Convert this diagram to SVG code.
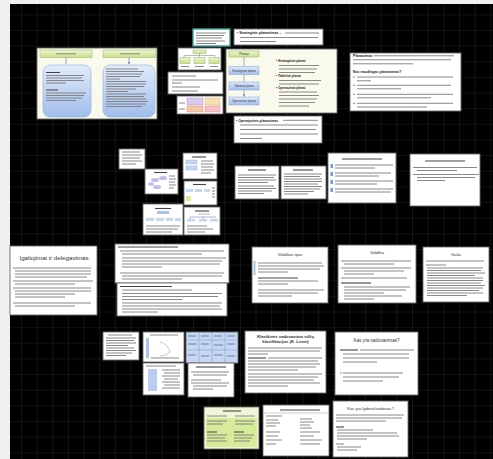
<svg xmlns="http://www.w3.org/2000/svg" width="493" height="459" viewBox="0 0 493 459">
<style>
.s{fill:#fff;stroke:#6a6a6a;stroke-width:.9}
.c{fill:#fafaec;stroke:#6a6a6a;stroke-width:.9}
.t{fill:none;stroke:#7c7c7c;stroke-width:.9}
.tb{fill:none;stroke:#444;stroke-width:1.1}
.h{font-family:"Liberation Sans",Arial,sans-serif;fill:#333;text-anchor:middle}
.hb{font-family:"Liberation Sans",Arial,sans-serif;fill:#222;font-weight:bold}
.gb{fill:url(#gGreen);stroke:#a4bf72;stroke-width:.6}
.bb{fill:url(#gBlue);stroke:#8fabdc;stroke-width:.6}
.ar{stroke:#6f88b8;stroke-width:.7;fill:none;marker-end:url(#ah)}
</style>
<defs>
<pattern id="grid" x="5.36" y="14.36" width="15.64" height="15.64" patternUnits="userSpaceOnUse">
<path d="M0 0H15.64M0 0V15.64" stroke="#222" stroke-width="1.2" fill="none"/>
</pattern>
<linearGradient id="gGreen" x1="0" y1="0" x2="0" y2="1"><stop offset="0" stop-color="#eef6d4"/><stop offset="1" stop-color="#c6df88"/></linearGradient>
<linearGradient id="gBlue" x1="0" y1="0" x2="0" y2="1"><stop offset="0" stop-color="#e2ebfa"/><stop offset="1" stop-color="#a0bdec"/></linearGradient>
<marker id="ah" viewBox="0 0 6 6" refX="5" refY="3" markerWidth="4" markerHeight="4" orient="auto"><path d="M0 0L6 3L0 6z" fill="#6f88b8"/></marker>
</defs>
<rect x="0" y="0" width="493" height="459" fill="#f0f0f0"/>
<rect x="10" y="4" width="483" height="455" fill="#000"/>
<rect x="10" y="4" width="483" height="455" fill="url(#grid)"/>

<g id="slide-planai-schema">
<rect class="c" x="37" y="48" width="120" height="71"/>
<rect class="gb" x="40" y="50" width="52" height="7.5"/>
<rect class="gb" x="103" y="50" width="53" height="7.5"/>
<path class="t" d="M56 53.8h20M120 53.8h20"/>
<path class="ar" d="M66 57.5V64M129 57.5V64"/>
<rect class="bb" x="43" y="65" width="48" height="52" rx="7"/>
<rect class="bb" x="103" y="65" width="52" height="52" rx="7"/>
<path class="tb" d="M46 72.5h14M46 90h12"/>
<path class="t" d="M46 75.5h38M46 78h36M46 80.5h38M46 83h20M46 93h40M46 95.5h38M46 98h36M46 100.5h30"/>
<path class="t" d="M106 69h32M106 71.5h38M106 74h36M106 76.5h34M106 79h14M106 81.5h40M106 84h40M106 86.5h38M106 89h30M106 91.5h22M106 94h40M106 96.5h38M106 99h40M106 101.5h42M106 104h40M106 106.5h36"/>
</g>

<g id="slide-teal">
<rect x="193" y="29" width="37" height="17" fill="#fff" stroke="#3aa39a" stroke-width="1.4"/>
<path class="t" d="M196 33h30M196 35.5h28M196 38h26M196 41h29M196 43.5h20"/>
</g>

<g id="slide-mini-schema">
<rect class="s" x="178" y="48" width="43" height="22"/>
<rect class="gb" x="193" y="50" width="13" height="3.5"/>
<path d="M199.5 53.5v2M184 55.5h31M184 55.5v2M199.5 55.5v2M215 55.5v2" stroke="#777" stroke-width=".5" fill="none"/>
<rect class="gb" x="180" y="57.5" width="10" height="6"/>
<rect class="gb" x="194" y="57.5" width="11" height="6"/>
<rect class="gb" x="209" y="57.5" width="10" height="6"/>
<path class="t" d="M181 66.5h8M195 66.5h9M210 66.5h8"/>
</g>

<g id="slide-bullets-a">
<rect class="s" x="168" y="72" width="55" height="22"/>
<path class="t" d="M172 76h24M172 80h46M172 83h10M172 87h28M172 91h26"/>
</g>

<g id="slide-colour-boxes">
<rect class="s" x="177" y="96" width="46" height="18"/>
<rect x="187" y="98" width="16" height="7" fill="#d9c9ee" stroke="#a58cc8" stroke-width=".4"/>
<rect x="205" y="98" width="15" height="7" fill="#f7e0b5" stroke="#d9aa5a" stroke-width=".4"/>
<rect x="187" y="106" width="16" height="6" fill="#f2c6a8" stroke="#d08c66" stroke-width=".4"/>
<rect x="205" y="106" width="15" height="6" fill="#f6c0c8" stroke="#d0808c" stroke-width=".4"/>
<path class="t" d="M179 103h6M179 109h6"/>
</g>

<g id="slide-strateginis">
<rect class="s" x="234" y="29" width="89" height="16"/>
<text class="hb" x="237" y="34.2" font-size="3.6">• Strateginis planavimas –</text>
<path class="t" d="M285 33h34M240 37.5h78M240 41.5h36"/>
</g>

<g id="slide-planai">
<rect class="c" x="226" y="49" width="111" height="64"/>
<rect class="gb" x="229" y="51" width="30" height="6"/>
<text class="h" x="244" y="55.3" font-size="3.4">Planai</text>
<path class="ar" d="M244 57V66M244 74.5V81.5M244 90V96.5"/>
<rect class="bb" x="229" y="66.5" width="30" height="8"/>
<text class="h" x="244" y="71.7" font-size="3">Strateginiai planai</text>
<rect class="bb" x="229" y="82" width="30" height="8"/>
<text class="h" x="244" y="87.2" font-size="3">Taktiniai planai</text>
<rect class="bb" x="229" y="97" width="30" height="8"/>
<text class="h" x="244" y="102.2" font-size="3">Operaciniai planai</text>
<text class="hb" x="276" y="62" font-size="3.2">• Strateginiai planai</text>
<path class="t" d="M279 65.5h40M279 69h38M279 72.5h36"/>
<text class="hb" x="276" y="77" font-size="3.2">• Taktiniai planai</text>
<path class="t" d="M279 80.5h42M279 84h40"/>
<text class="hb" x="276" y="88.5" font-size="3.2">• Operaciniai planai</text>
<path class="t" d="M279 92h38M279 95.5h40M279 99h38M279 102.5h36M279 106h30"/>
</g>

<g id="slide-operatyvinis">
<rect class="s" x="234" y="116" width="88" height="27"/>
<text class="hb" x="236" y="121.5" font-size="3.4">• Operatyvinis planavimas</text>
<path class="t" d="M283 120.3h35M240 125h78M240 129.5h76M240 134h78M240 138.5h22"/>
</g>

<g id="slide-planavimas">
<rect class="s" x="350" y="53" width="111" height="58"/>
<text class="hb" x="353" y="57" font-size="3.6">Planavimas</text>
<path class="t" d="M374 55.8h80M353 59.8h98M353 63.8h60"/>
<text class="hb" x="353" y="73" font-size="3.6">Kas naudingas planavimas?</text>
<path class="t" d="M353 77h2M357 77h96M357 80.8h14M353 85.3h2M357 85.3h94M357 88.8h44M353 94.3h2M357 94.3h96M357 97.8h74M353 103.3h2M357 103.3h96M357 107h70"/>
</g>

<g id="slide-small-1">
<rect class="s" x="119" y="149" width="26" height="20"/>
<path class="t" d="M122 152h18M122 155h20M122 158h18M122 161h20M122 164h14"/>
</g>

<g id="slide-small-2">
<rect class="s" x="183" y="153" width="34" height="26"/>
<path class="tb" d="M192 157h14"/>
<rect x="186" y="160" width="11" height="4" fill="#c5d8f3" stroke="#8aa6d6" stroke-width=".4"/>
<rect x="186" y="166" width="11" height="4" fill="#c5d8f3" stroke="#8aa6d6" stroke-width=".4"/>
<path class="t" d="M201 161h12M201 164h13M201 167h12M201 170h13M201 173h10"/>
</g>

<g id="slide-small-3">
<rect class="s" x="145" y="169" width="33" height="25"/>
<path class="tb" d="M154 172.5h13"/>
<ellipse cx="155" cy="180" rx="4" ry="2" fill="#c9b8ec"/>
<ellipse cx="163" cy="178" rx="4" ry="2" fill="#c9b8ec"/>
<ellipse cx="157" cy="187" rx="4" ry="2" fill="#c9b8ec"/>
<ellipse cx="151" cy="184" rx="3" ry="1.8" fill="#c9b8ec"/>
<path class="t" d="M169 176h6M169 179h7M169 182h6M169 185h7M169 188h5"/>
</g>

<g id="slide-small-4">
<rect class="s" x="184" y="181" width="33" height="24"/>
<path class="tb" d="M193 184.5h13"/>
<rect x="186" y="189" width="7" height="3" fill="#c5d8f3"/>
<rect x="195" y="189" width="7" height="3" fill="#c5d8f3"/>
<rect x="204" y="189" width="6" height="3" fill="#c5d8f3"/>
<rect x="186" y="196" width="5" height="5" fill="#d7ec9c"/>
<path class="t" d="M212 188h3M212 191h3M212 194h3M212 197h3"/>
</g>

<g id="slide-small-5">
<rect class="s" x="143" y="204" width="40" height="31"/>
<path class="tb" d="M155 208.5h16"/>
<rect x="157" y="211" width="12" height="3" fill="#a9c3ee"/>
<rect x="146" y="218" width="8" height="3" fill="#c5d8f3"/>
<rect x="156" y="218" width="8" height="3" fill="#c5d8f3"/>
<rect x="166" y="218" width="7" height="3" fill="#c5d8f3"/>
<rect x="175" y="218" width="6" height="3" fill="#c5d8f3"/>
<path class="t" d="M146 226h34M146 229h32M146 232h26"/>
</g>

<g id="slide-small-6">
<rect class="s" x="184" y="207" width="36" height="28"/>
<path class="tb" d="M195 211h14"/>
<path d="M198 214h12M190 217h26M190 217v2M203 217v2" stroke="#6f88b8" stroke-width=".6" fill="none"/>
<rect x="187" y="219" width="8" height="2.5" fill="#c5d8f3"/>
<rect x="199" y="219" width="8" height="2.5" fill="#c5d8f3"/>
<rect x="210" y="219" width="8" height="2.5" fill="#c5d8f3"/>
<path class="t" d="M187 226h20M187 229h26M187 232h18"/>
</g>

<g id="slide-16">
<rect class="s" x="235" y="166" width="44" height="33"/>
<path class="tb" d="M248 170h18"/>
<path class="t" d="M238 175h38M238 177.5h36M238 180h38M238 182.5h30M238 186h36M238 188.5h38M238 191h34M238 193.5h26"/>
</g>

<g id="slide-17">
<rect class="s" x="281" y="166" width="45" height="33"/>
<path class="tb" d="M293 170h20"/>
<path class="t" d="M284 174h38M284 176.5h36M284 179h38M284 181.5h38M284 184h34M284 186.5h38M284 189h36M284 191.5h30M284 194h24"/>
</g>

<g id="slide-18">
<rect class="s" x="328" y="153" width="68" height="50"/>
<path class="tb" d="M342 159h40"/>
<rect x="330.5" y="164" width="2.5" height="4" fill="#7b9ad6"/>
<rect x="330.5" y="172" width="2.5" height="4" fill="#7b9ad6"/>
<rect x="330.5" y="180" width="2.5" height="4" fill="#7b9ad6"/>
<rect x="330.5" y="188" width="2.5" height="4" fill="#7b9ad6"/>
<path class="t" d="M335 165h58M335 168h40M335 173h56M335 176h44M335 181h58M335 184h42M335 189h58M335 192h56"/>
</g>

<g id="slide-19">
<rect class="s" x="410" y="154" width="70" height="52"/>
<path class="tb" d="M425 161h40"/>
<path class="t" d="M413 167.5h64M417 170.5h40M413 174.5h66M417 177.5h58M417 180.5h28"/>
</g>

<g id="slide-igaliojimai">
<rect class="s" x="10" y="246" width="87" height="69"/>
<text class="h" x="54" y="260" font-size="6.2">Įgaliojimai ir delegavimas</text>
<path class="t" d="M13 268h78M15 271h76M15 274h76M15 277h72M13 281h80M15 284h60M13 288h78M15 291h76M15 294h60M15 297h50M13 303h78M15 306h60"/>
</g>

<g id="slide-21">
<rect class="s" x="115" y="244" width="114" height="39"/>
<path class="tb" d="M118 247h60"/>
<path class="t" d="M120 251h104M122 254h80M122 258h104M122 261h100M122 264h98M122 267h40M120 273h104M122 276h100M122 279h60"/>
</g>

<g id="slide-22">
<rect class="s" x="117" y="283" width="110" height="33"/>
<path class="tb" d="M120 286.5h52"/>
<path class="t" d="M122 290h70M122 293.5h100M122 296.5h96M122 299.5h60M122 303h100M122 306h98M122 309h100M122 312h36"/>
</g>

<g id="slide-valdzios-tipai">
<rect class="s" x="252" y="247" width="76" height="56"/>
<text class="h" x="290" y="256" font-size="4.2">Valdžios tipai</text>
<rect x="253.5" y="261" width="2" height="14" fill="#a9c3ee"/>
<path class="t" d="M258 263h64M258 266h66M258 269h62M258 272h30"/>
<path class="tb" d="M258 278h40"/>
<path class="t" d="M258 281h60M258 284h30"/>
<path class="t" d="M258 290h66M258 293h60M258 296h34"/>
</g>

<g id="slide-valdzia">
<rect class="s" x="338" y="245" width="78" height="58"/>
<text class="h" x="377" y="253.5" font-size="4.2">Valdžia</text>
<path class="t" d="M341 261h70M344 264h50M341 268h70M344 271h60M344 274h30M341 278h66"/>
<path class="tb" d="M341 283h30"/>
<path class="t" d="M344 287h66M344 290h62M344 293h40M344 296h58M344 299h30"/>
</g>

<g id="slide-galia">
<rect class="s" x="423" y="247" width="66" height="55"/>
<text class="h" x="456" y="255.5" font-size="4.2">Galia</text>
<path class="t" d="M426 261h58M426 265h20M427 268h56M427 270.5h54M427 273h58M427 275.5h48M427 278h56M427 280.5h56M427 283h54M427 285.5h58M427 288h56M427 290.5h52M427 293h56M427 295.5h40"/>
</g>

<g id="thumb-1">
<rect class="s" x="103" y="332" width="36" height="28"/>
<path class="t" d="M108 335h24M106 338h30M106 340.5h28M106 343h30M106 345.5h22M106 348h28M106 350.5h30M106 353h26M106 355.5h20"/>
</g>

<g id="thumb-2">
<rect class="s" x="143" y="332" width="41" height="30"/>
<path class="t" d="M150 335h28"/>
<rect x="146" y="338" width="3" height="20" fill="#a9c3ee"/>
<path d="M160 342q8 2 10 10q-4 4 -10 4" fill="none" stroke="#8aa6d6" stroke-width=".6"/>
<path class="t" d="M151 358h28"/>
</g>

<g id="thumb-3">
<rect x="186" y="332" width="52" height="31" fill="#c5d7f3" stroke="#6a6a6a" stroke-width=".9"/>
<path d="M199 332v31M212 332v31M225 332v31M186 340h52M186 350h52" stroke="#7e98c8" stroke-width=".5" fill="none"/>
<path d="M188 336h8M201 336h8M214 336h8M227 336h8M188 344h9M201 344h8M214 345h9M227 344h8M188 355h8M201 356h8M214 355h9M227 356h8" stroke="#5a6a8a" stroke-width=".8" fill="none"/>
</g>

<g id="slide-klasikines">
<rect class="s" x="245" y="331" width="81" height="62"/>
<text class="h" font-size="4.2" font-weight="bold"><tspan x="285.5" y="337.5">Klasikinės vadovavimo stilių</tspan><tspan x="285.5" y="343">klasifikacijos (K. Levin)</tspan></text>
<path class="t" d="M248 348h74M248 351h72M248 354h20"/>
<path class="tb" d="M248 358h18"/>
<path class="t" d="M268 358h54M248 361h70M248 364h72M248 367h68M248 370h50M248 374h74M248 377h70M248 380h66M248 383h72M248 386h40"/>
</g>

<g id="slide-kas-yra-vadovavimas">
<rect class="s" x="335" y="332" width="83" height="63"/>
<text class="h" x="376.5" y="341.5" font-size="4.6">Kas yra vadovavimas?</text>
<path class="tb" d="M340 350h18"/>
<path class="t" d="M360 350h54M343 354h66M343 358h66M343 362h34M340 373h2M343 373h60M343 377h56M343 381h40"/>
</g>

<g id="slide-chart">
<rect class="s" x="143" y="363" width="41" height="32"/>
<path class="t" d="M146 366h30"/>
<rect x="148" y="369" width="9" height="22" fill="#b8cdf0"/>
<path class="t" d="M162 370h18M164 373h16M162 376h18M164 379h14M162 382h18M164 385h16M162 388h18"/>
</g>

<g id="slide-32">
<rect class="s" x="188" y="363" width="46" height="34"/>
<path class="tb" d="M196 367h30"/>
<path class="t" d="M191 372h38M193 375h34M191 380h30M191 383h38M193 386h34M193 389h20"/>
</g>

<g id="slide-green">
<rect x="204" y="407" width="55" height="42" fill="#eef6d6" stroke="#6a6a6a" stroke-width=".9"/>
<rect x="206" y="418" width="51" height="29" fill="#d6ec9a"/>
<path class="tb" d="M223 411h18"/>
<path class="t" d="M207 416h20M235 416h20M207 421h20M235 421h20M207 424h16M235 424h18"/>
<path class="tb" d="M207 432h10M234 432h10"/>
<path class="t" d="M207 435h20M234 435h20M207 438h18M234 438h18M207 441h20M234 441h16"/>
</g>

<g id="slide-grafikas">
<rect class="s" x="263" y="405" width="66" height="51"/>
<path class="tb" d="M280 410h40"/>
<path d="M263 413h66" stroke="#999" stroke-width=".5"/>
<path class="t" d="M266 416h16M266 420h12M266 423h14M266 426h10M266 432h14M266 436h12M266 440h16M266 444h10M300 419h12M300 422h14M300 425h10M300 428h12M300 432h20M300 436h14M300 440h22M300 444h20"/>
</g>

<g id="slide-kas-yra-lyderis">
<rect class="s" x="333" y="401" width="75" height="56"/>
<text class="h" x="370.5" y="409.5" font-size="4.2">Kas yra lyderis/vadovas?</text>
<path class="t" d="M336 415h68M336 418h66M336 421h50"/>
<path class="tb" d="M336 427h8"/>
<path class="t" d="M337 430h36M337 433h60M337 436h62M337 439h30M336 444h8M337 447h24M337 450h20"/>
</g>
</svg>
